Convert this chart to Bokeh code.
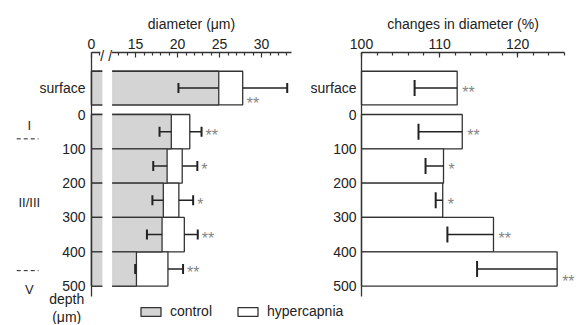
from bokeh.plotting import figure
from bokeh.models import (Range1d, LinearAxis, FixedTicker, ColumnDataSource, Whisker, TeeHead,
                          LabelSet, Label, Legend, LegendItem, CustomJSTickFormatter)
from bokeh.embed import file_html
from bokeh.resources import INLINE
from bokeh.core.properties import value

# ---------------- data ----------------
rows_lbl = ["surface", "0-100", "100-200", "200-300", "300-400", "400-500"]
depth_top = [None, 0, 100, 200, 300, 400]          # layer tops (µm)
depth_ticks = [0, 100, 200, 300, 400, 500]
control_um = [24.9, 19.25, 18.75, 18.3, 18.15, 15.1]
control_se = [4.8, 1.4, 1.65, 1.3, 1.8, 0.15]
hyper_um = [27.75, 21.45, 20.55, 20.15, 20.8, 18.85]
hyper_se = [5.3, 1.4, 1.8, 1.7, 1.6, 1.8]
change_pct = [112.25, 112.9, 110.5, 110.4, 116.9, 125.05]
change_se = [5.45, 5.6, 2.3, 0.9, 5.9, 10.25]
signif = ["**", "**", "*", "*", "**", "**"]
diam_ticks = [0, 15, 20, 25, 30]
diam_minor = [1] + [v for v in range(13, 34) if v % 5]
pct_ticks = [100, 110, 120]
pct_minor = list(range(100, 127, 2))
layers = [("I", 32), ("II/III", 256), ("V", 510)]   # cortical layer names and depths
layer_bounds = [71, 455]

# ---------------- layout / style ----------------
W, H = 576, 324
FONT = "Liberation Sans"
GRAY = "#d4d4d4"
EDGE = "#333333"
TXT = "#222222"
STAR = "#858585"
OFFSET = 9.75        # broken axis: values >= 12 are shifted left by this amount
SURF_Y = -77         # vertical slot of the 'surface' row (axis units)
SURF_H = 98
X0_PX, UM_PX = 91, 8.4          # left panel: origin pixel and px per µm
P0_PX, PCT_PX = 361, 7.81       # right panel: 100 % pixel and px per %
Y0_PX, DEPTH_PX = 114, 0.3432   # depth 0 pixel and px per µm depth
Y_TOP, Y_BOT = -180, 531        # extent of the panels (depth units)
D_END, P_END = 23.8, 126        # extent of the x axes


def disp(v):
    return v - OFFSET if v >= 12 else v


centers = [SURF_Y] + [t + 50 for t in depth_top[1:]]
heights = [SURF_H] + [100] * 5

p = figure(width=W, height=H, output_backend="svg", toolbar_location=None,
           x_range=Range1d(-X0_PX / UM_PX, (W - X0_PX) / UM_PX),
           y_range=Range1d((H - Y0_PX) / DEPTH_PX, -Y0_PX / DEPTH_PX),
           x_axis_type=None, y_axis_type=None,
           min_border_left=0, min_border_right=0, min_border_top=0, min_border_bottom=0)
p.extra_x_ranges = {"pct": Range1d(100 - P0_PX / PCT_PX, 100 + (W - P0_PX) / PCT_PX)}
p.outline_line_color = None
p.xgrid.visible = False
p.ygrid.visible = False


def style_axis(ax):
    ax.axis_line_color = EDGE
    ax.axis_line_width = 1.3
    ax.major_label_text_font = FONT
    ax.major_label_text_font_size = "14px"
    ax.major_label_text_color = TXT
    ax.axis_label_text_font = FONT
    ax.axis_label_text_font_size = "14px"
    ax.axis_label_text_font_style = "normal"
    ax.axis_label_text_color = TXT
    return ax


def x_axis(ax):
    style_axis(ax)
    ax.major_tick_in = 5
    ax.major_tick_out = 0
    ax.minor_tick_in = 3
    ax.minor_tick_out = 0
    ax.major_tick_line_color = EDGE
    ax.minor_tick_line_color = EDGE
    ax.major_tick_line_width = 1.2
    ax.minor_tick_line_width = 1.2
    ax.major_label_standoff = 4
    ax.axis_label_standoff = 4
    return ax


def y_axis(ax, standoff):
    style_axis(ax)
    ax.major_tick_line_color = None
    ax.minor_tick_line_color = None
    ax.major_tick_in = 0
    ax.major_tick_out = 0
    ax.major_label_standoff = standoff
    ax.ticker = FixedTicker(ticks=[SURF_Y] + depth_ticks)
    ax.major_label_overrides = {SURF_Y: "surface"}
    return ax


# axes
ax_d = x_axis(LinearAxis(fixed_location=Y_TOP, bounds=(0, D_END), axis_label="diameter (μm)"))
ax_d.ticker = FixedTicker(ticks=[disp(v) for v in diam_ticks], minor_ticks=[disp(v) for v in diam_minor])
ax_d.formatter = CustomJSTickFormatter(
    args=dict(off=OFFSET), code="return (tick < 1 ? tick : tick + off).toFixed(0);")
p.add_layout(ax_d, "above")
ax_p = x_axis(LinearAxis(x_range_name="pct", fixed_location=Y_TOP, bounds=(100, P_END),
                         axis_label="changes in diameter (%)"))
ax_p.ticker = FixedTicker(ticks=pct_ticks, minor_ticks=pct_minor)
p.add_layout(ax_p, "above")
p.add_layout(y_axis(LinearAxis(fixed_location=0, bounds=(Y_TOP, Y_BOT)), 6), "left")
p.add_layout(y_axis(LinearAxis(x_range_name="pct", fixed_location=100, bounds=(Y_TOP, Y_BOT)), 5), "left")

# ---------------- left: diameter ----------------
src1 = ColumnDataSource(dict(
    y=centers, h=heights,
    c=[disp(v) for v in control_um], hy=[disp(v) for v in hyper_um],
    c_lo=[disp(v - s) for v, s in zip(control_um, control_se)],
    h_hi=[disp(v + s) for v, s in zip(hyper_um, hyper_se)],
))
r_h = p.hbar(y="y", height="h", left=0, right="hy", source=src1,
             fill_color="white", line_color=EDGE, line_width=1.3)
r_c = p.hbar(y="y", height="h", left=0, right="c", source=src1,
             fill_color=GRAY, line_color=EDGE, line_width=1.3)
# white gap of the broken axis
p.quad(left=[1.3], right=[2.45], bottom=[Y_BOT + 20], top=[Y_TOP - 10],
       fill_color="white", line_color=None)

p.add_layout(Whisker(source=src1, base="y", lower="c_lo", upper="c", dimension="width",
                     level="annotation", line_color=TXT, line_width=1.5, upper_head=None,
                     lower_head=TeeHead(size=10, line_width=2, line_color=TXT)))
p.add_layout(Whisker(source=src1, base="y", lower="hy", upper="h_hi", dimension="width",
                     level="annotation", line_color=TXT, line_width=1.5, lower_head=None,
                     upper_head=TeeHead(size=10, line_width=2, line_color=TXT)))

star1 = ColumnDataSource(dict(
    x=[disp(hyper_um[0])] + [disp(v + s) for v, s in zip(hyper_um[1:], hyper_se[1:])],
    y=[SURF_Y + 34] + centers[1:], t=signif))
p.add_layout(LabelSet(x="x", y="y", text="t", source=star1, x_offset=4, y_offset=-4,
                      text_font=value(FONT), text_font_size="16px", text_color=STAR,
                      text_baseline="middle"))

# broken-axis marks (white backed, so the axis line is interrupted)
p.add_layout(Label(x=1.75, y=Y_TOP + 10, text="/ /", text_align="center", text_baseline="middle",
                   text_font=FONT, text_font_size="14px", text_color=TXT,
                   background_fill_color="white"))

# cortical layer annotations and depth title
p.text(x=[-7.4] * 3, y=[d for _, d in layers], text=[n for n, _ in layers],
       text_align="center", text_baseline="middle",
       text_font=value(FONT), text_font_size="13px", text_color=TXT)
p.segment(x0=[-8.9] * 2, x1=[-6.3] * 2, y0=layer_bounds, y1=layer_bounds,
          line_color=TXT, line_width=1, line_dash="4 3")
p.text(x=[-2.95, -2.95], y=[538, 590], text=["depth", "(μm)"],
       text_align="center", text_baseline="middle",
       text_font=value(FONT), text_font_size="14px", text_color=TXT)

# ---------------- right: % change ----------------
src2 = ColumnDataSource(dict(
    y=centers, h=heights, v=change_pct,
    lo=[v - s for v, s in zip(change_pct, change_se)],
))
p.hbar(y="y", height="h", left=100, right="v", source=src2, x_range_name="pct",
       fill_color="white", line_color=EDGE, line_width=1.3)
p.add_layout(Whisker(source=src2, base="y", lower="lo", upper="v", dimension="width",
                     x_range_name="pct", level="annotation", line_color=TXT, line_width=1.5,
                     upper_head=None, lower_head=TeeHead(size=16, line_width=2, line_color=TXT)))
star2 = ColumnDataSource(dict(x=change_pct, y=centers[:5] + [centers[5] + 25], t=signif))
p.add_layout(LabelSet(x="x", y="y", text="t", source=star2, x_range_name="pct",
                      x_offset=5, y_offset=-4,
                      text_font=value(FONT), text_font_size="16px", text_color=STAR,
                      text_baseline="middle"))

# ---------------- legend ----------------
leg = Legend(items=[LegendItem(label="control", renderers=[r_c]),
                    LegendItem(label="hypercapnia", renderers=[r_h])],
             orientation="horizontal", location=(138, 5), glyph_width=25, glyph_height=11,
             label_height=11, label_standoff=7, spacing=23, padding=0, margin=0,
             border_line_color=None, background_fill_alpha=0,
             label_text_font=FONT, label_text_font_size="14px", label_text_color=TXT)
p.add_layout(leg)

open("out.html", "w").write(file_html(p, INLINE))
